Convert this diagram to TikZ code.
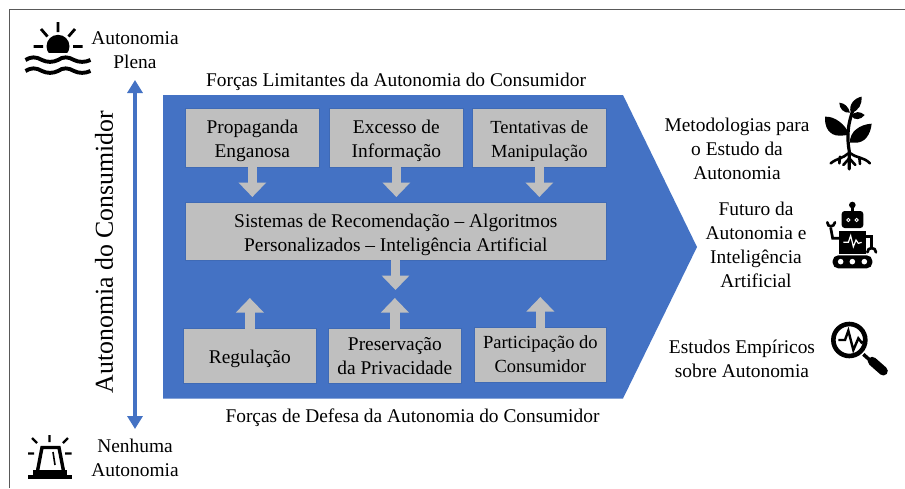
\documentclass[tikz,border=0pt]{standalone}
\usepackage{fontspec}
\setmainfont{Liberation Serif}
\usetikzlibrary{arrows.meta}
\definecolor{blueA}{HTML}{4472C4}
\definecolor{grayA}{HTML}{BFBFBF}
\definecolor{edgeA}{HTML}{3F6AB5}
\tikzset{
  box/.style={draw=edgeA,line width=0.7pt,fill=grayA,align=center,inner sep=0pt,anchor=north west,font=\fontsize{19.4}{24}\selectfont},
  lbl/.style={align=center,inner sep=0pt,font=\fontsize{19.4}{24}\selectfont},
  blockarrow/.style={draw=grayA,line width=9.5pt,shorten <=-1pt,-{Triangle[width=27pt,length=14.5pt]}},
  updown/.style={draw=blueA,line width=4pt,{Triangle[width=15pt,length=13pt]}-{Triangle[width=15pt,length=13pt]}},
  ray/.style={line width=2.8pt,draw=black},
}
\newcommand{\boxat}[7]{\node[box,minimum width=#4pt,minimum height=#5pt] (#1) at (#2,#3) {\raisebox{-#6pt}[\height][\depth]{\begin{tabular}{@{}c@{}}#7\end{tabular}}};}
\newcommand{\smfont}{\fontsize{18.5}{24}\selectfont}
\begin{document}
\begin{tikzpicture}[x=1pt,y=-1pt]
\useasboundingbox[fill=white] (0,0) rectangle (905,488);
\draw[color=black!65,line width=1pt] (9.5,488) -- (9.5,9.5) -- (905,9.5);
% main shape
\fill[blueA] (163,95) -- (623,95) -- (697,247) -- (623,398.5) -- (163,398.5) -- cycle;
% boxes
\boxat{p1}{185}{108}{134}{59}{2.5}{Propaganda\\Enganosa}
\boxat{p2}{329}{108}{134}{59}{2.5}{Excesso de\\Informação}
\boxat{p3}{472}{108}{134}{59}{2.5}{\smfont Tentativas de\\\smfont Manipulação}
\boxat{cen}{185}{202}{421}{58}{3}{Sistemas de Recomendação – Algoritmos\\Personalizados – Inteligência Artificial}
\boxat{q1}{183}{328}{133}{55}{3}{Regulação}
\boxat{q2}{328}{328}{133}{55}{1.5}{Preservação\\da Privacidade}
\boxat{q3}{474}{327}{132}{55}{0.5}{\smfont Participação do\\\smfont Consumidor}
\coordinate (cenend) at (395.5,290);
\coordinate (up1) at (q1.north |- 0,298);
\coordinate (up2) at (q2.north |- 0,298);
\coordinate (up3) at (q3.north |- 0,297);
\draw[blockarrow,shorten >=5pt] (p1.south) -- (p1.south |- cen.north);
\draw[blockarrow,shorten >=5pt] (p2.south) -- (p2.south |- cen.north);
\draw[blockarrow,shorten >=5pt] (p3.south) -- (p3.south |- cen.north);
\draw[blockarrow] (cen.south -| cenend) -- (cenend);
\draw[blockarrow] (q1.north) -- (up1);
\draw[blockarrow] (q2.north) -- (up2);
\draw[blockarrow] (q3.north) -- (up3);
% axis
\coordinate (axtop) at (135,80);
\coordinate (axbot) at (135,429);
\draw[updown] (axtop) -- (axbot);
\node[lbl,rotate=90,font=\fontsize{25.8}{28}\selectfont] (axl) at (104,252) {Autonomia do Consumidor};
% labels
\node[lbl] (t1) at (135,50) {Autonomia\\Plena};
\node[lbl] (t2) at (135,458) {Nenhuma\\Autonomia};
\node[lbl] (top) at (396,82) {Forças Limitantes da Autonomia do Consumidor};
\node[lbl] (bot) at (412.5,418) {Forças de Defesa da Autonomia do Consumidor};
\node[lbl] (r1) at (737,149) {Metodologias para\\o Estudo da\\Autonomia};
\node[lbl] (r2) at (756,245) {Futuro da\\Autonomia e\\Inteligência\\Artificial};
\node[lbl] (r3) at (742,359) {Estudos Empíricos\\sobre Autonomia};
% sun icon
\begin{scope}
\clip (40,30) rectangle (76,52.5);
\fill (58,46.3) circle[radius=11.5];
\end{scope}
\draw[ray] (58,22) -- (58,32) (41,29) -- (47.5,36.5) (75,29) -- (68.5,36.5) (33.5,46.5) -- (43,46.5) (73,46.5) -- (82.5,46.5);
\foreach \yy in {60,71}{
\draw[line width=3.9pt] (25.5,\yy) .. controls (31,\yy-3.5) and (36,\yy-3.5) .. (42,\yy) .. controls (47,\yy+2.5) and (53,\yy+2.5) .. (58,\yy) .. controls (63,\yy-3.5) and (68,\yy-3.5) .. (74,\yy) .. controls (79,\yy+2.5) and (85,\yy+2.5) .. (90.5,\yy);
}
% siren icon
\fill (28,475) rectangle (72,478.5);
\fill (33,470) rectangle (67,475.5);
\draw[line width=3.4pt] (37.5,471) -- (42,447.5) -- (59,447.5) -- (63.5,471);
\draw[line width=1.6pt] (53,452) -- (55,465);
\draw[ray,line width=2.3pt] (49.5,435) -- (49.5,442) (32,438) -- (37,443) (68,438) -- (63,443) (28,453.5) -- (34,453.5) (65,453.5) -- (71.5,453.5);
% plant icon
\begin{scope}[shift={(790,90)},x=0.3333pt,y=-0.3333pt]
\draw[line width=3.2pt,line cap=round] (178,237) -- (178,185) .. controls (170,140) and (172,100) .. (195,45);
\draw[line width=2.6pt,line cap=round] (175,190) .. controls (160,205) and (140,205) .. (122,220)
 (182,190) .. controls (200,205) and (220,200) .. (240,220)
 (150,200) -- (148,220) (208,203) -- (210,222) (178,205) -- (160,225) (178,205) -- (196,225);
\fill (178,134) .. controls (168,105) and (135,78) .. (105,80) .. controls (103,112) and (118,137) .. (148,137) .. controls (160,137) and (172,135) .. (178,134) -- cycle;
\fill (180,158) .. controls (178,125) and (210,103) .. (245,101) .. controls (242,132) and (225,160) .. (195,158) -- cycle;
\fill (183,68) .. controls (173,45) and (195,23) .. (215,20) .. controls (217,40) and (207,64) .. (183,68) -- cycle;
\fill (180,68) .. controls (175,50) and (165,40) .. (148,38) .. controls (148,55) and (160,70) .. (180,68) -- cycle;
\fill (183,78) .. controls (195,63) and (210,63) .. (224,75) .. controls (212,90) and (195,92) .. (183,78) -- cycle;
\end{scope}
% robot icon
\begin{scope}[shift={(810,195)},x=0.3333pt,y=-0.3333pt]
\fill[rounded corners=3pt] (95,48) rectangle (160,99);
\fill (127,30) circle[radius=3.3pt];
\draw[line width=2.6pt] (127,30) -- (127,50);
\draw[white,line width=0.9pt] (115,75) circle[radius=1.6pt] (140,75) circle[radius=1.6pt];
\fill (86,108) rectangle (167,177);
\draw[white,line width=1.2pt] (100,142) -- (115,142) -- (122,122) -- (130,155) -- (138,135) -- (145,145) -- (155,142);
\draw[line width=2.7pt] (92,130) -- (68,130) -- (62,98);
\draw[line width=2.7pt,line cap=round] (52,82) .. controls (52,98) and (72,98) .. (75,82);
\draw[line width=2.7pt] (165,125) -- (185,125) -- (185,158);
\draw[line width=2.7pt,line cap=round] (172,172) .. controls (172,155) and (198,155) .. (198,172);
\fill[rounded corners=5.5pt] (68,181) rectangle (187,220);
\fill[white] (92,200) circle[radius=2.8pt] (127,200) circle[radius=2.8pt] (163,200) circle[radius=2.8pt];
\end{scope}
% magnifier icon
\begin{scope}[shift={(810,310)},x=0.3333pt,y=-0.3333pt]
\draw[line width=4.6pt] (118,90) circle[radius=16pt];
\draw[line width=3.5pt] (160,133) -- (185,155);
\draw[line width=9pt,line cap=round] (187,154) -- (220,183);
\draw[line width=2.4pt] (85,90) -- (105,90) -- (115,62) -- (130,120) -- (145,85) -- (155,98) -- (170,90);
\end{scope}
\end{tikzpicture}
\end{document}
